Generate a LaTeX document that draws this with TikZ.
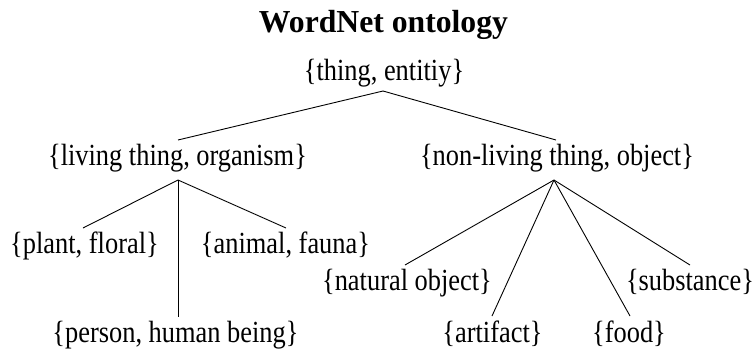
\documentclass[tikz,border=0pt]{standalone}
\usepackage{fontspec}
\setmainfont{Liberation Serif}[FakeStretch=0.86]
\newfontfamily\titlefont{Liberation Serif}[FakeStretch=0.99]
\begin{document}
\begin{tikzpicture}[x=1pt,y=-1pt,
  lbl/.style={anchor=base,inner sep=0pt,outer sep=0pt,
    text height=20pt,text depth=6.5pt,
    font=\fontsize{30.7}{36}\selectfont},
  ttl/.style={anchor=base,inner sep=0pt,
    font=\titlefont\bfseries\fontsize{32}{38}\selectfont},
  link/.style={line width=0.9pt,black}]
\useasboundingbox (0,0) rectangle (756,354);

% title
\node[ttl] (title) at (383.5,32) {WordNet ontology};

% synsets, placed by baseline
\node[lbl] (thing)     at (384,80)    {\{thing, entitiy\}};
\node[lbl] (living)    at (177.5,165) {\{living thing, organism\}};
\node[lbl] (nonliving) at (557,165)   {\{non-living thing, object\}};
\node[lbl] (plant)     at (84.5,253)  {\{plant, floral\}};
\node[lbl] (animal)    at (285.5,253) {\{animal, fauna\}};
\node[lbl] (person)    at (175.5,342) {\{person, human being\}};
\node[lbl] (natural)   at (407,290)   {\{natural object\}};
\node[lbl] (substance) at (690,290)   {\{substance\}};
\node[lbl] (artifact)  at (492.5,342) {\{artifact\}};
\node[lbl] (food)      at (629,342)   {\{food\}};

% hypernym links
\draw[link] ([shift={(-1,4.5)}]thing.south) -- ([shift={(0.5,-5)}]living.north);
\draw[link] ([shift={(-1,4.5)}]thing.south) -- ([shift={(-1,-5)}]nonliving.north);

\draw[link] ([shift={(0.5,8.5)}]living.south) -- ([shift={(-1.5,-5)}]plant.north);
\draw[link] ([shift={(0.5,8.5)}]living.south) -- ([shift={(2.5,-5)}]person.north);
\draw[link] ([shift={(0.5,8.5)}]living.south) -- ([shift={(0.5,-5)}]animal.north);

\draw[link] ([shift={(-3,8.5)}]nonliving.south) -- ([shift={(-2,-5)}]natural.north);
\draw[link] ([shift={(-3,8.5)}]nonliving.south) -- ([shift={(-0.5,-6)}]artifact.north);
\draw[link] ([shift={(-3,8.5)}]nonliving.south) -- ([shift={(1,-6)}]food.north);
\draw[link] ([shift={(-3,8.5)}]nonliving.south) -- ([shift={(0,-5)}]substance.north);
\end{tikzpicture}
\end{document}
